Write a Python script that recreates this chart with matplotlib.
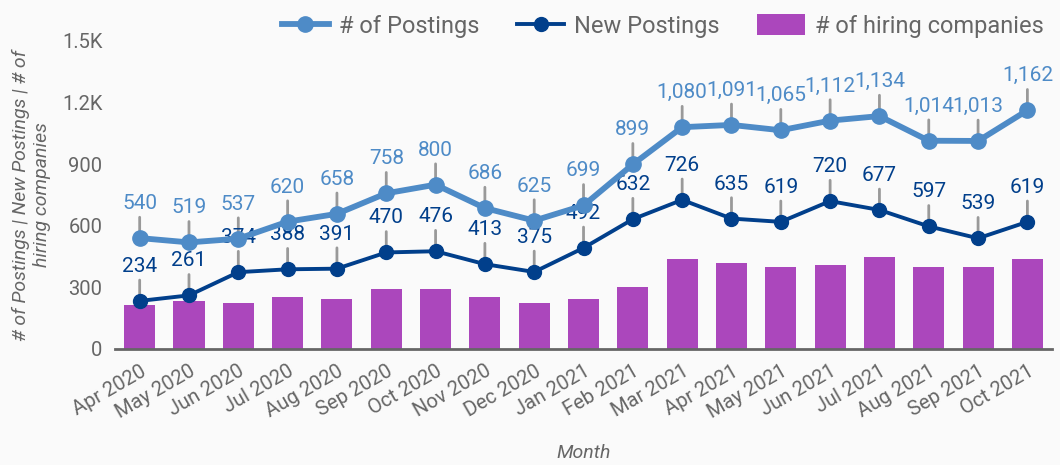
import numpy as np
import matplotlib.pyplot as plt
from matplotlib.ticker import FuncFormatter

months = ["Apr 2020", "May 2020", "Jun 2020", "Jul 2020", "Aug 2020", "Sep 2020",
          "Oct 2020", "Nov 2020", "Dec 2020", "Jan 2021", "Feb 2021", "Mar 2021",
          "Apr 2021", "May 2021", "Jun 2021", "Jul 2021", "Aug 2021", "Sep 2021",
          "Oct 2021"]
postings = [540, 519, 537, 620, 658, 758, 800, 686, 625, 699, 899, 1080,
            1091, 1065, 1112, 1134, 1014, 1013, 1162]
new_postings = [234, 261, 374, 388, 391, 470, 476, 413, 375, 492, 632, 726,
                635, 619, 720, 677, 597, 539, 619]
companies = [215, 235, 224, 253, 243, 292, 292, 253, 224, 243, 301, 437,
             418, 398, 408, 447, 398, 398, 437]

light = "#4e8bc7"
dark = "#013f8b"
purple = "#ab47bc"
grey = "#666666"
bg = "#fafafa"

plt.rcParams['font.family'] = ['Roboto', 'DejaVu Sans']

fig = plt.figure(figsize=(10.6, 4.65), dpi=100, facecolor=bg)
ax = fig.add_axes([0.1085, 0.2495, 0.884, 0.6625], facecolor=bg)

x = np.arange(len(months))
ax.bar(x, companies, width=0.63, color=purple, zorder=2, label="# of hiring companies")
ax.plot(x, postings, color=light, lw=4.2, marker='o', ms=11, zorder=5, label="# of Postings")
ax.plot(x, new_postings, color=dark, lw=2.8, marker='o', ms=10, zorder=5, label="New Postings")

for vals, c in [(postings, light), (new_postings, dark)]:
    for xi, v in zip(x, vals):
        ax.annotate(f"{v:,}", xy=(xi, v), xytext=(0, 18), textcoords='offset points',
                    ha='center', va='bottom', fontsize=15, color=c, zorder=3,
                    arrowprops=dict(arrowstyle='-', color='#999999', lw=2,
                                    shrinkA=1, shrinkB=0))

ax.set_xlim(-0.5, 18.5)
ax.set_ylim(0, 1500)
ax.set_yticks([0, 300, 600, 900, 1200, 1500])
ax.yaxis.set_major_formatter(FuncFormatter(
    lambda v, p: f"{v/1000:.1f}K" if v >= 1000 else f"{int(v)}"))
ax.set_xticks(x)
ax.set_xticklabels(months, rotation=30, ha='right', rotation_mode='anchor')
ax.tick_params(axis='both', length=0, labelsize=14.5, labelcolor=grey, pad=9)

for s in ['top', 'right', 'left']:
    ax.spines[s].set_visible(False)
ax.spines['bottom'].set_color(grey)
ax.spines['bottom'].set_linewidth(2)

ax.set_xlabel("Month", fontsize=14, color=grey, style='italic', labelpad=16)
ax.set_ylabel("# of Postings | New Postings | # of\nhiring companies", fontsize=14,
              color=grey, style='italic', labelpad=8)

h, l = ax.get_legend_handles_labels()
fig.legend(h, l, loc='upper center', bbox_to_anchor=(0.625, 1.015), ncol=3,
           frameon=False, fontsize=17, labelcolor=grey, handlelength=2.0,
           handleheight=1.0, columnspacing=1.6, handletextpad=0.42)

fig.savefig("out.png", dpi=100, facecolor=bg)
